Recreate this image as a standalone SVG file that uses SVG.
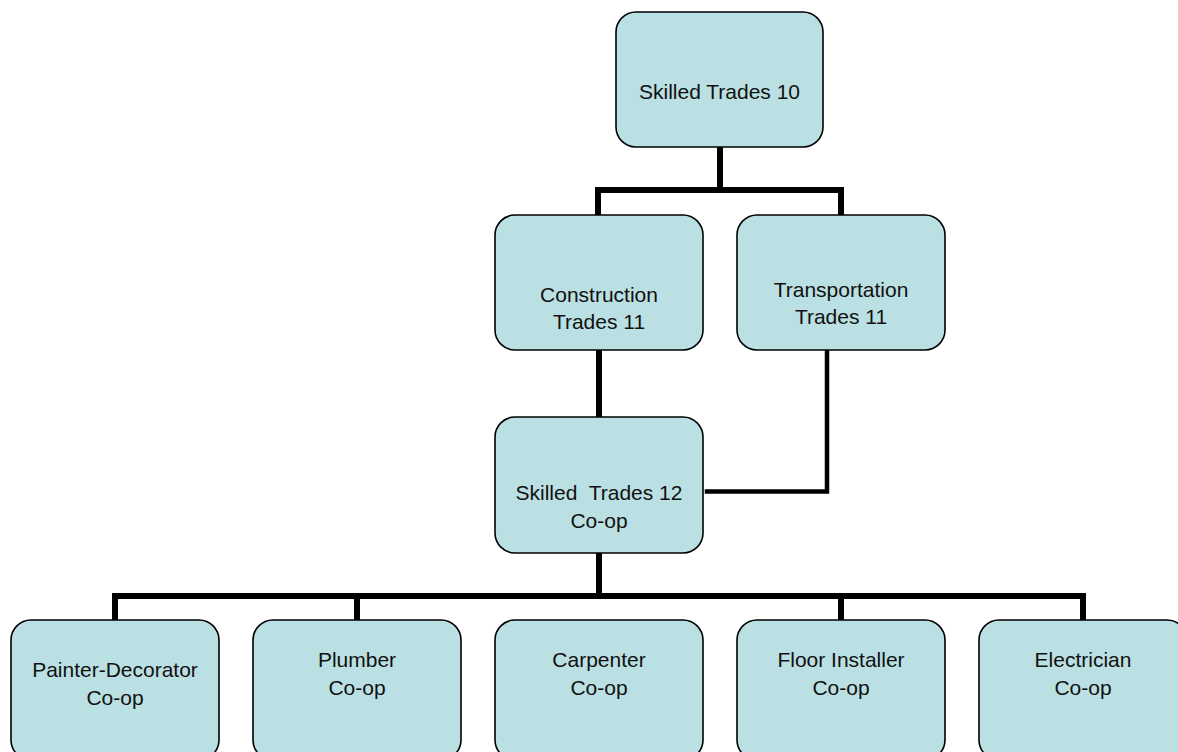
<svg xmlns="http://www.w3.org/2000/svg" width="1178" height="752" viewBox="0 0 1178 752">
<style>
.node{fill:#BAE0E3;stroke:#000;stroke-width:1.6}
.lbl{font-family:"Liberation Sans",Arial,sans-serif;font-size:21px;fill:#111;text-anchor:middle;white-space:pre}
.conn{fill:none;stroke:#000;stroke-width:6;stroke-linejoin:miter;stroke-linecap:square}
.thin{stroke-width:4.5}
</style>
<rect width="1178" height="752" fill="#fff"/>
<g id="connectors">
<path class="conn" d="M720 147V190M598 215V190H841V215"/>
<path class="conn" d="M599 350V417"/>
<path class="conn thin" d="M827 350V491.5H707"/>
<path class="conn" d="M599 553V596M115 620V596H1083V620M357 596V620M841 596V620"/>
</g>
<g id="n-st10">
<rect class="node" x="616" y="12" width="207" height="135" rx="20"/>
<text class="lbl" x="719.5" y="99">Skilled Trades 10</text>
</g>
<g id="n-ct11">
<rect class="node" x="495" y="215" width="208" height="135" rx="20"/>
<text class="lbl" x="599" y="302">Construction</text>
<text class="lbl" x="599" y="329">Trades 11</text>
</g>
<g id="n-tt11">
<rect class="node" x="737" y="215" width="208" height="135" rx="20"/>
<text class="lbl" x="841" y="297">Transportation</text>
<text class="lbl" x="841" y="324">Trades 11</text>
</g>
<g id="n-st12">
<rect class="node" x="495" y="417" width="208" height="136" rx="20"/>
<text class="lbl" x="599" y="500" xml:space="preserve">Skilled  Trades 12</text>
<text class="lbl" x="599" y="528">Co-op</text>
</g>
<g id="n-painter">
<rect class="node" x="11" y="620" width="208" height="140" rx="20"/>
<text class="lbl" x="115" y="677">Painter-Decorator</text>
<text class="lbl" x="115" y="705">Co-op</text>
</g>
<g id="n-plumber">
<rect class="node" x="253" y="620" width="208" height="140" rx="20"/>
<text class="lbl" x="357" y="667">Plumber</text>
<text class="lbl" x="357" y="695">Co-op</text>
</g>
<g id="n-carpenter">
<rect class="node" x="495" y="620" width="208" height="140" rx="20"/>
<text class="lbl" x="599" y="667">Carpenter</text>
<text class="lbl" x="599" y="695">Co-op</text>
</g>
<g id="n-floor">
<rect class="node" x="737" y="620" width="208" height="140" rx="20"/>
<text class="lbl" x="841" y="667">Floor Installer</text>
<text class="lbl" x="841" y="695">Co-op</text>
</g>
<g id="n-electrician">
<rect class="node" x="979" y="620" width="208" height="140" rx="20"/>
<text class="lbl" x="1083" y="667">Electrician</text>
<text class="lbl" x="1083" y="695">Co-op</text>
</g>
</svg>
